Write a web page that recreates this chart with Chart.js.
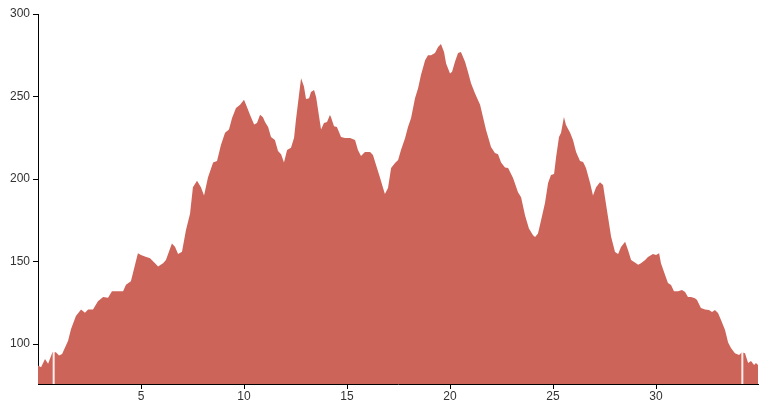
<!DOCTYPE html>
<html>
<head>
<meta charset="UTF-8">
<title>Elevation profile</title>
<script src="https://cdn.jsdelivr.net/npm/chart.js"></script>
<style>
  body { margin: 0; background: #fff; }
  canvas { display: block; }
</style>
</head>
<body>
<canvas id="profile" width="760" height="402"></canvas>
<script>
// distance (km) and elevation (m)
const distance = [
  0.00, 0.15, 0.34, 0.49, 0.70, 0.87, 1.02, 1.17, 1.46, 1.60, 1.84, 2.09, 2.28, 2.43, 2.67,
  2.91, 3.16, 3.40, 3.59, 3.88, 4.13, 4.27, 4.51, 4.71, 4.85, 5.00, 5.19, 5.44, 5.68, 5.83,
  6.07, 6.21, 6.50, 6.65, 6.80, 6.99, 7.18, 7.38, 7.52, 7.72, 7.91, 8.06, 8.25, 8.50, 8.69,
  8.88, 9.08, 9.27, 9.42, 9.61, 9.81, 10.00, 10.10, 10.29, 10.49, 10.63, 10.78, 10.92, 11.02, 11.17,
  11.31, 11.50, 11.65, 11.80, 11.94, 12.09, 12.28, 12.43, 12.52, 12.67, 12.77, 12.91, 13.01, 13.16, 13.25,
  13.40, 13.50, 13.74, 13.88, 14.03, 14.17, 14.22, 14.37, 14.51, 14.71, 14.90, 15.15, 15.39, 15.53, 15.68,
  15.87, 16.12, 16.26, 16.41, 16.60, 16.75, 16.84, 16.99, 17.14, 17.33, 17.48, 17.62, 17.82, 17.96, 18.11,
  18.30, 18.45, 18.59, 18.79, 18.93, 19.08, 19.27, 19.42, 19.56, 19.71, 19.81, 20.00, 20.10, 20.24, 20.39,
  20.53, 20.73, 20.87, 21.02, 21.21, 21.46, 21.60, 21.75, 21.99, 22.18, 22.33, 22.48, 22.67, 22.82, 23.06,
  23.30, 23.45, 23.64, 23.83, 24.03, 24.13, 24.27, 24.42, 24.61, 24.76, 24.90, 25.05, 25.15, 25.29, 25.39,
  25.53, 25.63, 25.83, 25.97, 26.12, 26.31, 26.46, 26.60, 26.80, 26.94, 27.09, 27.28, 27.43, 27.52, 27.67,
  27.82, 28.01, 28.16, 28.30, 28.50, 28.64, 28.79, 29.03, 29.13, 29.27, 29.47, 29.61, 29.85, 30.00, 30.15,
  30.24, 30.44, 30.58, 30.73, 30.87, 31.07, 31.26, 31.41, 31.55, 31.70, 31.89, 31.99, 32.18, 32.38, 32.57,
  32.72, 32.86, 33.01, 33.16, 33.35, 33.50, 33.64, 33.83, 34.03, 34.17, 34.32, 34.47, 34.61, 34.76, 34.85,
  34.95
];
const elevation = [
  87, 86, 91, 88, 95, 95, 93, 94, 102, 109, 117, 121, 119, 121, 121,
  126, 128.5, 128, 132, 132, 132, 136, 138, 148, 155, 154, 153, 152, 149, 147,
  149, 151, 161, 159, 154.5, 156, 169, 179, 195, 199, 195, 190, 201, 210, 211,
  220.6, 228, 230, 237, 243, 245, 248, 245, 239, 233, 234, 239, 237.5, 234.6, 231.5,
  225.5, 223.6, 217, 215, 210, 217.6, 219, 225, 235.8, 251, 261, 256, 248.5, 249, 252.7,
  254, 249.7, 230, 234, 234.5, 238.8, 237.6, 232, 231.5, 225.5, 224.8, 224.8, 223.6, 217.6, 214,
  216.4, 216.4, 214.5, 208.5, 201, 194.5, 191, 194.5, 206.7, 209.7, 211.5, 217.6, 224.8, 231.5, 237,
  249, 255, 263, 272, 275, 275, 276.4, 280, 281.8, 277, 270, 264, 265, 271, 276.4,
  277, 271, 265, 258, 252, 245, 237.6, 229.7, 219.4, 215.8, 215, 210, 207, 206.7, 200.6,
  192, 189, 178, 170, 166, 164.8, 167, 175, 185.5, 197.6, 202.4, 203, 213.3, 225.5, 228,
  237.6, 232.7, 228, 223.6, 216.4, 211, 210.3, 206.7, 197.6, 190, 195, 198, 196.4, 189, 177,
  165, 155.8, 154.5, 158.8, 162, 157, 151, 149, 148, 149, 151, 152.7, 154.5, 154, 155,
  149, 141.8, 137, 135.8, 132, 132, 132.7, 131.5, 128.5, 128.5, 127.8, 126.7, 121.8, 121, 120.6,
  119.4, 120.6, 118.8, 114.5, 108.5, 101, 97.6, 94.5, 93.3, 95, 94.5, 88.5, 89.7, 87.3, 88.5,
  87.3
];

// thin white marks near start and finish
const markerKm = [0.76, 34.19];
const markerElev = [95.5, 95.5];

const xTicks = [5, 10, 15, 20, 25, 30];
const yTicks = [100, 150, 200, 250, 300];

const points = distance.map((d, i) => ({ x: d, y: elevation[i] }));

const markerPlugin = {
  id: 'markers',
  afterDatasetsDraw(chart) {
    const { ctx, scales } = chart;
    ctx.save();
    ctx.strokeStyle = 'rgba(255,245,245,0.95)';
    ctx.lineWidth = 2;
    markerKm.forEach((km, i) => {
      const px = scales.x.getPixelForValue(km);
      ctx.beginPath();
      ctx.moveTo(px, scales.y.bottom);
      ctx.lineTo(px, scales.y.getPixelForValue(markerElev[i]));
      ctx.stroke();
    });
    ctx.restore();
  }
};

new Chart(document.getElementById('profile'), {
  type: 'line',
  data: {
    datasets: [{
      data: points,
      fill: 'start',
      backgroundColor: '#cd6459',
      borderColor: '#cd6459',
      borderWidth: 0,
      pointRadius: 0,
      tension: 0
    }]
  },
  options: {
    responsive: false,
    animation: false,
    layout: { padding: { top: 14, right: 2, left: 0, bottom: 0 } },
    plugins: {
      legend: { display: false },
      tooltip: { enabled: false }
    },
    scales: {
      x: {
        type: 'linear',
        min: 0,
        max: 34.95,
        afterBuildTicks: s => { s.ticks = xTicks.map(v => ({ value: v })); },
        afterFit: s => { s.height = 18; },
        grid: { drawOnChartArea: false, color: '#000', tickLength: 5 },
        border: { color: '#000', width: 1 },
        ticks: {
          color: '#333',
          padding: 0,
          maxRotation: 0,
          font: { family: 'Liberation Sans, Arial, sans-serif', size: 12 }
        }
      },
      y: {
        min: 75.8,
        max: 300,
        afterBuildTicks: s => { s.ticks = yTicks.map(v => ({ value: v })); },
        afterFit: s => { s.width = 38; },
        grid: { drawOnChartArea: false, color: '#000', tickLength: 5 },
        border: { color: '#000', width: 1 },
        ticks: {
          color: '#333',
          padding: 3,
          font: { family: 'Liberation Sans, Arial, sans-serif', size: 12 }
        }
      }
    }
  },
  plugins: [markerPlugin]
});
</script>
</body>
</html>
